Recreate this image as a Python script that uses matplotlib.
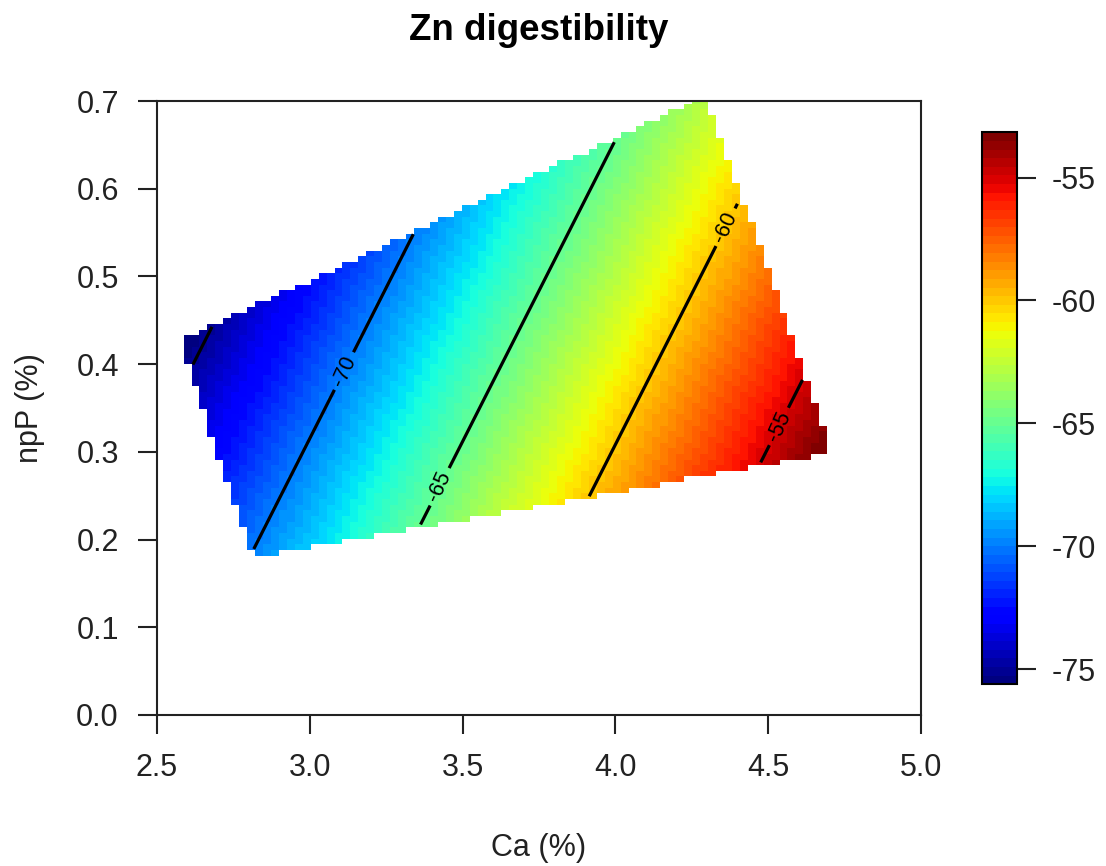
import matplotlib
matplotlib.use('Agg')
import matplotlib.pyplot as plt
import numpy as np
from matplotlib.path import Path
from matplotlib.ticker import FormatStrFormatter

plt.rcParams['font.family'] = ['Liberation Sans', 'DejaVu Sans']
plt.rcParams['axes.unicode_minus'] = False

# Fitted surface: Zn digestibility = b0 + b_ca * Ca + b_npp * npP
b0 = -95.16
b_ca = 9.9
b_npp = -14.4

# Convex hull of the tested diets (Ca %, npP %)
hull_ca = [2.60, 2.81, 2.90, 4.68, 4.68, 4.30, 4.26, 2.60]
hull_npp = [0.40, 0.185, 0.185, 0.297, 0.33, 0.70, 0.70, 0.43]

levels = [-75, -70, -65, -60, -55]
label_pos = [(3.12, 0.391), (3.426, 0.26), (4.368, 0.555), (4.549, 0.327)]
cbar_ticks = [-75, -70, -65, -60, -55]
xticks = [2.5, 3.0, 3.5, 4.0, 4.5, 5.0]
yticks = [0.0, 0.1, 0.2, 0.3, 0.4, 0.5, 0.6, 0.7]

# Prediction grid clipped to the hull
ca = np.linspace(min(hull_ca), max(hull_ca), 81)
npp = np.linspace(min(hull_npp), max(hull_npp), 81)
CA, NPP = np.meshgrid(ca, npp)
Z = b0 + b_ca * CA + b_npp * NPP
hull = Path(np.column_stack([hull_ca, hull_npp]))
pts = np.column_stack([CA.ravel(), NPP.ravel()])
inside = hull.contains_points(pts, radius=1e-3) | hull.contains_points(pts, radius=-1e-3)
Z = np.ma.masked_where(~inside.reshape(CA.shape), Z)

cmap = plt.get_cmap('jet', 64)

fig = plt.figure(figsize=(11.06, 8.66), dpi=100)
ax = fig.add_axes([157/1106, 151/866, 764/1106, 614/866])

mesh = ax.pcolormesh(ca, npp, Z, shading='nearest', cmap=cmap,
                     vmin=Z.min(), vmax=Z.max())
cs = ax.contour(ca, npp, Z, levels=levels, colors='black',
                linewidths=2.3, linestyles='solid')
ax.clabel(cs, manual=label_pos, fmt='%d',
          fontsize=15.5, inline=True, inline_spacing=12)

ax.set_xlim(2.5, 5.0)
ax.set_ylim(0.0, 0.7)
ax.set_xticks(xticks)
ax.set_yticks(yticks)
ax.xaxis.set_major_formatter(FormatStrFormatter('%.1f'))
ax.yaxis.set_major_formatter(FormatStrFormatter('%.1f'))
ax.tick_params(length=13.5, width=1.5, labelsize=22, color='#222222',
               labelcolor='#222222')
ax.tick_params(axis='x', pad=14)
ax.tick_params(axis='y', pad=14)
for s in ax.spines.values():
    s.set_linewidth(1.5)
    s.set_color('#222222')

ax.set_xlabel('Ca (%)', fontsize=22, color='#222222')
ax.xaxis.set_label_coords(0.5, -0.217)
ax.xaxis.label.set_va('center')
ax.set_ylabel('npP (%)', fontsize=22, color='#222222')
ax.yaxis.set_label_coords(-0.166, 0.5)
ax.yaxis.label.set_va('center')
ax.set_title('Zn digestibility', fontsize=26.5, fontweight='bold', pad=44)

# Colour key
cax = fig.add_axes([982/1106, 181.7/866, 35.3/1106, 552/866])
cb = fig.colorbar(mesh, cax=cax, ticks=cbar_ticks)
cb.outline.set_linewidth(1.5)
cax.tick_params(length=14, width=1.5, labelsize=22, pad=11, color='#222222',
                labelcolor='#222222')

fig.savefig('out.png', dpi=100)
